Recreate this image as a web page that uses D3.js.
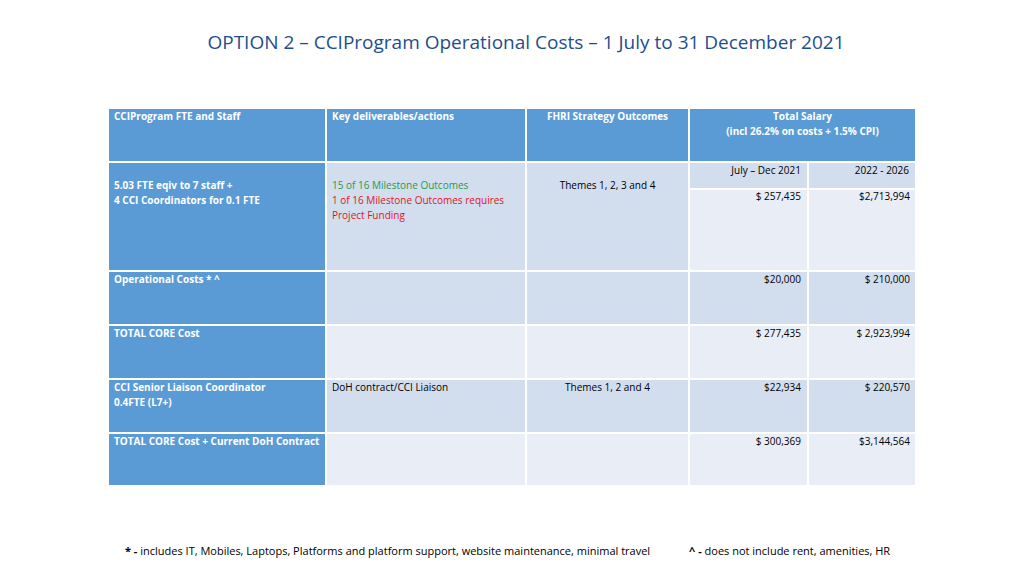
<!DOCTYPE html>
<html><head><meta charset="utf-8">
<script src="https://cdn.jsdelivr.net/npm/d3@7"></script>
<style>body{margin:0;background:#fff}text{font-family:"Liberation Sans Narrow","Open Sans",sans-serif}</style>
</head><body><svg id="c" width="1024" height="576"></svg>
<script>
const title = "OPTION 2 – CCIProgram Operational Costs – 1 July to 31 December 2021";
const headers = ["CCIProgram FTE and Staff","Key deliverables/actions","FHRI Strategy Outcomes"];
const salaryHeader = ["Total Salary","(incl 26.2% on costs + 1.5% CPI)"];
const periods = ["July – Dec 2021","2022 - 2026"];
const rowLabels = [["5.03 FTE eqiv to 7 staff +","4 CCI Coordinators for 0.1 FTE"],["Operational Costs * ^"],["TOTAL CORE Cost"],["CCI Senior Liaison Coordinator","0.4FTE (L7+)"],["TOTAL CORE Cost + Current DoH Contract"]];
const deliverables = [[["15 of 16 Milestone Outcomes","g"],["1 of 16 Milestone Outcomes requires","r"],["Project Funding","r"]],[],[],[["DoH contract/CCI Liaison","k"]],[]];
const outcomes = ["Themes 1, 2, 3 and 4","","","Themes 1, 2 and 4",""];
const julyDec = ["$ 257,435","$20,000","$ 277,435","$22,934","$ 300,369"];
const y2226 = ["$2,713,994","$ 210,000","$ 2,923,994","$ 220,570","$3,144,564"];
const footnote1 = ["* - ","includes IT, Mobiles, Laptops, Platforms and platform support, website maintenance, minimal travel"];
const footnote2 = ["^ - ","does not include rent, amenities, HR"];

const svg = d3.select("#c");
const colX = d3.scaleOrdinal().domain([0,1,2,3,4,5]).range([108,326,526,689,808,916]);
const rowY = d3.scaleOrdinal().domain([0,1,2,3,4,5,6]).range([108,162,271,325,379,433,486]);
const blue="#5B9BD5", dark="#D2DDEE", light="#E9EDF6";
const fs=10;
svg.append("text").attr("x",526).attr("y",49).attr("text-anchor","middle").attr("font-size",19).attr("fill","#1F4E8C").text(title);
function rect(x0,x1,y0,y1,f){svg.append("rect").attr("x",x0).attr("y",y0).attr("width",x1-x0).attr("height",y1-y0).attr("fill",f).attr("stroke","#fff").attr("stroke-width",2);}
function txt(x,y,s,o={}){svg.append("text").attr("x",x).attr("y",y).attr("font-size",fs).attr("fill",o.fill||"#000").attr("font-weight",o.bold?"bold":null).attr("text-anchor",o.anchor||"start").text(s);}
headers.forEach((h,i)=>{rect(colX(i),colX(i+1),rowY(0),rowY(1),blue);
  txt(i==2?(colX(i)+colX(i+1))/2:colX(i)+6,rowY(0)+12,h,{fill:"#fff",bold:true,anchor:i==2?"middle":"start"});});
rect(colX(3),colX(5),rowY(0),rowY(1),blue);
salaryHeader.forEach((s,k)=>txt((colX(3)+colX(5))/2,rowY(0)+12+k*15,s,{fill:"#fff",bold:true,anchor:"middle"}));
rowLabels.forEach((lab,r)=>{
  const y0=rowY(r+1), y1=rowY(r+2), bg=(r==2||r==4)?light:dark;
  rect(colX(0),colX(1),y0,y1,blue);
  const off = r==0?27:12;
  lab.forEach((s,k)=>txt(colX(0)+6,y0+off+k*15,s,{fill:"#fff",bold:true}));
  rect(colX(1),colX(2),y0,y1,bg); rect(colX(2),colX(3),y0,y1,bg);
  const cols={g:"#1E9B4A",r:"#E0141E",k:"#000"};
  deliverables[r].forEach((d,k)=>txt(colX(1)+6,y0+off+k*15,d[0],{fill:cols[d[1]]}));
  if(outcomes[r]) txt((colX(2)+colX(3))/2,y0+(r==0?27:12),outcomes[r],{anchor:"middle"});
  let vy=y0+12;
  if(r==0){
    const sub=y0+27;
    rect(colX(3),colX(4),y0,sub,dark); rect(colX(4),colX(5),y0,sub,dark);
    periods.forEach((p,k)=>txt(colX(k+4)-7,y0+12,p,{anchor:"end"}));
    rect(colX(3),colX(4),sub,y1,light); rect(colX(4),colX(5),sub,y1,light);
    vy=sub+11;
  } else { rect(colX(3),colX(4),y0,y1,bg); rect(colX(4),colX(5),y0,y1,bg); }
  txt(colX(4)-7,vy,julyDec[r],{anchor:"end"});
  txt(colX(5)-6,vy,y2226[r],{anchor:"end"});
});
function foot(x,parts){const t=svg.append("text").attr("x",x).attr("y",555).attr("font-size",11);
  t.append("tspan").attr("font-weight","bold").text(parts[0]); t.append("tspan").text(parts[1]);}
foot(125,footnote1); foot(689,footnote2);
</script></body></html>
